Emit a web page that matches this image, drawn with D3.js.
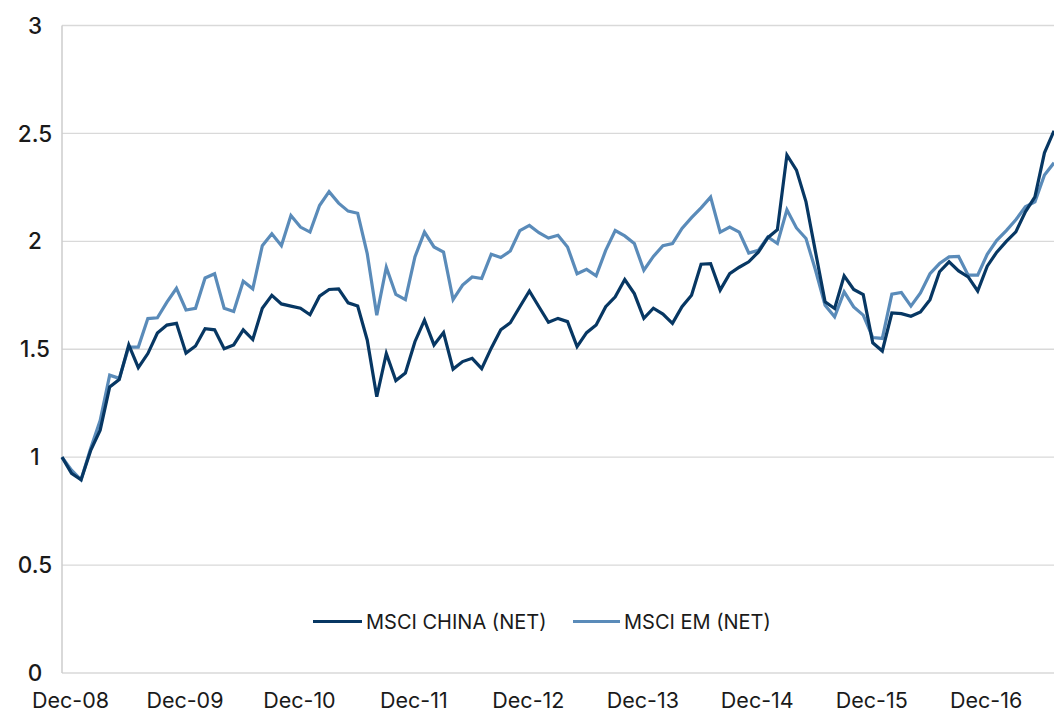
<!DOCTYPE html>
<html>
<head>
<meta charset="utf-8">
<script src="https://cdn.jsdelivr.net/npm/d3@7"></script>
<style>
  html, body { margin: 0; padding: 0; background: #ffffff; }
  svg { display: block; }
  text { font-family: Inter, "Open Sans", sans-serif; fill: #1a1a1a; }
</style>
</head>
<body>
<svg id="chart" width="1054" height="711"></svg>
<script>
// ---- data ----
const startMonth = new Date(2008, 11, 1); // Dec-08
const seriesNames = ["MSCI CHINA (NET)", "MSCI EM (NET)"];
const chinaValues = [
  1.00, 0.925, 0.895, 1.03, 1.125, 1.325, 1.36, 1.52, 1.415, 1.48, 1.575, 1.612,
  1.62, 1.482, 1.515, 1.595, 1.59, 1.502, 1.52, 1.59, 1.545, 1.69, 1.75, 1.71,
  1.70, 1.69, 1.66, 1.746, 1.777, 1.78, 1.715, 1.70, 1.543, 1.28, 1.48, 1.355,
  1.39, 1.535, 1.635, 1.52, 1.577, 1.408, 1.443, 1.458, 1.41, 1.505, 1.59, 1.623,
  1.697, 1.77, 1.697, 1.625, 1.643, 1.628, 1.512, 1.577, 1.612, 1.697, 1.743, 1.823,
  1.758, 1.643, 1.69, 1.663, 1.62, 1.697, 1.75, 1.894, 1.897, 1.774, 1.85, 1.88,
  1.905, 1.95, 2.017, 2.054, 2.40, 2.33, 2.183, 1.95, 1.72, 1.689, 1.84, 1.777,
  1.753, 1.53, 1.492, 1.668, 1.665, 1.653, 1.673, 1.73, 1.859, 1.905, 1.863, 1.835,
  1.77, 1.885, 1.95, 2.0, 2.044, 2.137, 2.206, 2.41, 2.512
];
const emValues = [
  1.00, 0.94, 0.895, 1.04, 1.17, 1.38, 1.365, 1.51, 1.51, 1.642, 1.646, 1.718,
  1.782, 1.682, 1.69, 1.83, 1.85, 1.69, 1.675, 1.815, 1.78, 1.98, 2.035, 1.98,
  2.12, 2.066, 2.043, 2.166, 2.23, 2.177, 2.14, 2.13, 1.943, 1.658, 1.88, 1.754,
  1.73, 1.928, 2.043, 1.974, 1.95, 1.73, 1.797, 1.835, 1.828, 1.94, 1.925, 1.955,
  2.05, 2.074, 2.04, 2.015, 2.028, 1.974, 1.85, 1.87, 1.84, 1.958, 2.05, 2.025,
  1.99, 1.866, 1.93, 1.98, 1.99, 2.06, 2.11, 2.155, 2.205, 2.043, 2.066, 2.043,
  1.946, 1.958, 2.02, 1.99, 2.146, 2.062, 2.013, 1.866, 1.704, 1.65, 1.766, 1.696,
  1.658, 1.554, 1.55, 1.755, 1.763, 1.70, 1.761, 1.85, 1.897, 1.928, 1.93, 1.843,
  1.843, 1.94, 2.005, 2.05, 2.10, 2.16, 2.183, 2.307, 2.364
];
const xTickLabels = ["Dec-08", "Dec-09", "Dec-10", "Dec-11", "Dec-12", "Dec-13", "Dec-14", "Dec-15", "Dec-16"];
const yTickValues = [0, 0.5, 1, 1.5, 2, 2.5, 3];
const colors = ["#073763", "#5a8bb9"];

// ---- categories ----
const fmt = d3.timeFormat("%b-%y");
const months = d3.range(chinaValues.length).map(i => fmt(d3.timeMonth.offset(startMonth, i)));

// ---- layout ----
const svg = d3.select("#chart");
const plotLeft = 62, plotRight = 1054, plotTop = 25.5, plotBottom = 673;

const x = d3.scalePoint().domain(months).range([plotLeft, plotRight]);
const y = d3.scaleLinear().domain([0, 3]).range([plotBottom, plotTop]);

// gridlines
svg.append("g")
  .selectAll("line")
  .data(yTickValues)
  .join("line")
  .attr("x1", plotLeft).attr("x2", plotRight)
  .attr("y1", d => y(d)).attr("y2", d => y(d))
  .attr("stroke", "#d9d9d9")
  .attr("stroke-width", 1.4);

// left axis line
svg.append("line")
  .attr("x1", plotLeft).attr("x2", plotLeft)
  .attr("y1", plotTop).attr("y2", plotBottom)
  .attr("stroke", "#cccccc")
  .attr("stroke-width", 1.5);

// y labels
svg.append("g")
  .selectAll("text")
  .data(yTickValues)
  .join("text")
  .attr("x", 35)
  .attr("y", d => y(d))
  .attr("dy", "0.36em")
  .attr("text-anchor", "middle")
  .attr("font-size", 22.5)
  .attr("font-weight", 500)
  .text(d => d3.format("")(d));

// x labels
const xAxis = d3.axisBottom(x)
  .tickValues(xTickLabels)
  .tickSize(0)
  .tickPadding(0);
const gx = svg.append("g")
  .attr("transform", `translate(8, ${plotBottom})`)
  .call(xAxis);
gx.select(".domain").remove();
gx.selectAll("text")
  .attr("y", 34.5)
  .attr("dy", 0)
  .attr("font-size", 21.5)
  .attr("font-family", "Inter, sans-serif")
  .attr("fill", "#1a1a1a");

// lines
const line = d3.line()
  .x((d, i) => x(months[i]))
  .y(d => y(d));

const seriesData = [emValues, chinaValues];
const seriesColors = [colors[1], colors[0]];
svg.append("g")
  .selectAll("path")
  .data(seriesData)
  .join("path")
  .attr("d", d => line(d))
  .attr("fill", "none")
  .attr("stroke", (d, i) => seriesColors[i])
  .attr("stroke-width", 3.2)
  .attr("stroke-linejoin", "miter")
  .attr("stroke-linecap", "butt");

// legend
const legendItems = [
  { name: seriesNames[0], color: colors[0], x1: 313, x2: 362, tx: 366 },
  { name: seriesNames[1], color: colors[1], x1: 573, x2: 620, tx: 624 }
];
const ly = 621.5;
const lg = svg.append("g");
legendItems.forEach(it => {
  lg.append("line")
    .attr("x1", it.x1).attr("x2", it.x2)
    .attr("y1", ly).attr("y2", ly)
    .attr("stroke", it.color)
    .attr("stroke-width", 3.2);
  lg.append("text")
    .attr("x", it.tx)
    .attr("y", ly)
    .attr("dy", "0.36em")
    .attr("font-size", 20)
    .text(it.name);
});
</script>
</body>
</html>
